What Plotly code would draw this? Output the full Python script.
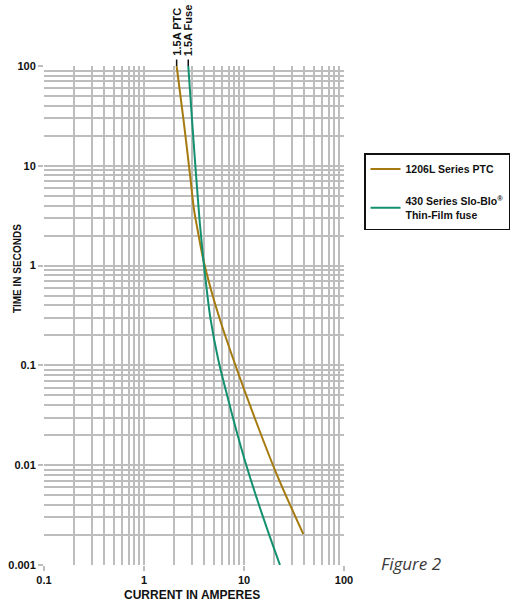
import math
import plotly.graph_objects as go

# Data (current in A, time in s)
ptc_current = [2.12, 2.48, 2.92, 3.16, 3.43, 3.92, 4.68, 5.75, 7.85, 10.96, 20.4, 39.2]
ptc_time    = [100, 29.2, 7.30, 3.65, 2.30, 1.15, 0.574, 0.287, 0.114, 0.0451, 0.00895, 0.00204]
fuse_current = [2.77, 3.02, 3.31, 3.59, 3.92, 4.24, 4.64, 5.53, 6.97, 8.91, 10.6, 13.6, 17.2, 22.9]
fuse_time    = [100, 29.2, 8.2, 2.90, 1.15, 0.574, 0.287, 0.114, 0.0451, 0.0179, 0.00982, 0.00448, 0.00224, 0.001]

x_major = [0.1, 1, 10, 100]
x_major_text = ["0.1", "1", "10", "100"]
y_major = [0.001, 0.01, 0.1, 1, 10, 100]
y_major_text = ["0.001", "0.01", "0.1", "1", "10", "100"]
x_minor = [m * d for d in [0.1, 1, 10] for m in range(2, 10)]
y_minor = [m * d for d in [0.001, 0.01, 0.1, 1, 10] for m in range(2, 10)]

ptc_color = "#a57a0f"
fuse_color = "#13906f"
grid_color = "#bdbdbd"
FONT = "Liberation Sans Narrow, Liberation Sans, Arial, sans-serif"
TXT = "#111111"

fig = go.Figure()
fig.add_trace(go.Scatter(x=ptc_current, y=ptc_time, mode="lines",
                         line=dict(color=ptc_color, width=2, shape="spline", smoothing=1.0),
                         name="1206L Series PTC", legendgroup="a"))
fig.add_trace(go.Scatter(x=fuse_current, y=fuse_time, mode="lines",
                         line=dict(color=fuse_color, width=2, shape="spline", smoothing=1.0),
                         name="430 Series Slo-Blo<sup>®</sup><br>Thin-Film fuse", legendgroup="b"))

axis_common = dict(
    type="log", showline=False, zeroline=False, automargin=False,
    gridcolor=grid_color, gridwidth=1.5,
    ticks="outside", ticklen=5, tickcolor=grid_color, tickwidth=1.5,
    tickfont=dict(family=FONT, size=11, color=TXT, weight="bold"),
    tickmode="array",
)
fig.update_xaxes(**axis_common, range=[-1, 2], tickvals=x_major, ticktext=x_major_text,
                 minor=dict(tickvals=x_minor, showgrid=True, gridcolor=grid_color, gridwidth=1.5, ticks=""))
fig.update_yaxes(**axis_common, range=[-3, 2], tickvals=y_major, ticktext=y_major_text,
                 minor=dict(tickvals=y_minor, showgrid=True, gridcolor=grid_color, gridwidth=1.5, ticks=""))

# Axis titles
fig.add_annotation(x=0.493, y=-0.06, xref="paper", yref="paper", text="CURRENT IN AMPERES",
                   showarrow=False, xanchor="center", yanchor="middle",
                   font=dict(family=FONT, size=12, color=TXT, weight="bold"))
fig.add_annotation(x=-0.09, y=0.593, xref="paper", yref="paper", text="TIME IN SECONDS", textangle=-90,
                   showarrow=False, xanchor="center", yanchor="middle",
                   font=dict(family=FONT, size=10, color=TXT, weight="bold"))

# Rating labels above the chart
for xv, lab in [(ptc_current[0], "1.5A PTC"), (fuse_current[0], "1.5A Fuse")]:
    fig.add_shape(type="line", xref="x", yref="paper", x0=xv, x1=xv, y0=1.0, y1=1.013,
                  line=dict(color=TXT, width=1.5))
    fig.add_annotation(x=math.log10(xv), y=1.016, xref="x", yref="paper", text=lab, textangle=-90,
                       showarrow=False, xanchor="center", yanchor="bottom",
                       font=dict(family=FONT, size=11, color=TXT, weight="bold"))

fig.add_annotation(x=1.223, y=0.004, xref="paper", yref="paper", text="<i>Figure 2</i>", showarrow=False,
                   xanchor="center", yanchor="middle",
                   font=dict(family="Open Sans, sans-serif", size=17, color="#3a3a3a"))

fig.update_layout(
    width=513, height=601,
    margin=dict(l=44, r=169, t=66, b=36),
    paper_bgcolor="white", plot_bgcolor="white",
    font=dict(family=FONT, color=TXT),
    legend=dict(x=0.7096, y=0.7454, xref="container", yref="container",
                xanchor="left", yanchor="top",
                bordercolor=TXT, borderwidth=1.5, bgcolor="white",
                tracegroupgap=14, itemwidth=30,
                font=dict(family=FONT, size=10.5, color=TXT, weight="bold")),
    showlegend=True,
)

# remove the default 8px page margin so the 513x601 figure fills the window
fig.write_html("out.html", config={"displayModeBar": False},
               post_script="document.body.style.margin='0';document.body.style.overflow='hidden';")
